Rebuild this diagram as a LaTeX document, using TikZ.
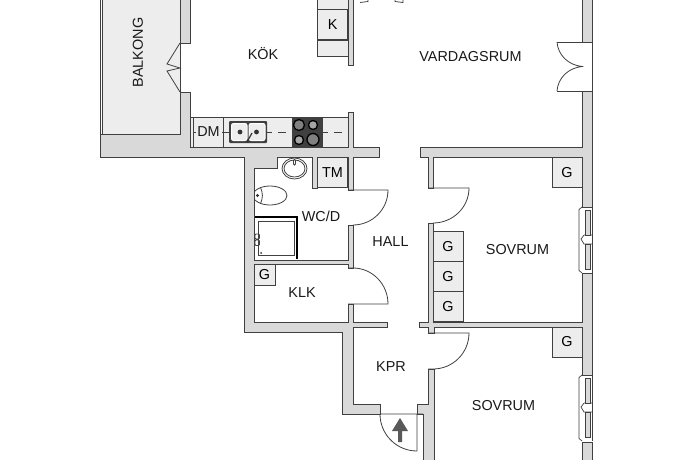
\documentclass[tikz,border=0pt]{standalone}
\usepackage{fontspec}
\setmainfont{Liberation Sans}
\definecolor{wallgray}{gray}{0.85}
\definecolor{boxgray}{gray}{0.93}
\definecolor{linegray}{gray}{0.25}
\begin{document}
\begin{tikzpicture}[x=1pt,y=-1pt,node distance=30pt,
		room label/.style={font=\fontsize{14.4}{14.4}\selectfont,text=black!90,inner sep=0pt},
		cupboard/.style={rectangle,draw=linegray,fill=boxgray,line width=.8pt,minimum size=30pt,inner sep=0pt,font=\fontsize{14.4}{14.4}\selectfont},
		wall/.style={draw=linegray,fill=wallgray,line width=.8pt,line join=miter},
		door line/.style={draw=linegray,line width=.8pt},
		window pane/.style={draw=linegray,fill=wallgray,line width=.6pt}]
		\path[use as bounding box,fill=white] (0,0) rectangle (690,460);
		\clip (0,0) rectangle (690,460);

		% balcony
		\fill[boxgray] (102,-2) rectangle (180,134);
		\draw[door line] (100,-2) -- (100,134) (102.5,-2) -- (102.5,134);
		\draw[door line] (180,-2) -- (180,134);
		\draw[door line] (180,43) -- (167,64) -- (180,68) -- (167,71) -- (180,92);
		\node[room label,rotate=90] (balkong) at (138,52.5) {BALKONG};

		% kitchen bench
		\fill[boxgray] (190,117) rectangle (348,147);
		\draw[door line] (190,117) -- (348,117) (193.5,117) -- (193.5,147) (223,117) -- (223,147);
		\draw[door line,line width=.6pt,dash pattern=on 8pt off 6pt] (194,132) -- (348,132);
		\fill[boxgray] (196,125) rectangle (221,139);
		\node[room label] (dm) at (208.5,132) {DM};
		% sink
		\fill[linegray,rounded corners=1pt] (229,121) rectangle (267,143);
		\draw[draw=white,fill=boxgray,line width=1pt,rounded corners=2pt] (231.5,123.5) rectangle (247,140.5);
		\draw[draw=white,fill=boxgray,line width=1pt,rounded corners=2pt] (249,123.5) rectangle (265,140.5);
		\fill[black!80] (240,132) circle (2.4) (256.5,132) circle (2.4);
		\draw[black!80,line width=1.2pt] (247,142) -- (252,133);
		% hob
		\fill[black!75] (292,117) rectangle (323,147);
		\foreach \hx/\hy/\hr/\hs in {299/125/5.5/black!50,313/125/4.5/black!35,299/140/4.5/black!35,313/139.5/6/black!50}
			\draw[black,line width=1.3pt,fill=\hs] (\hx,\hy) circle (\hr);

		% bathroom fittings
		\draw[door line] (294.5,168.5) ellipse (12.5 and 10.5);
		\draw[door line] (294.5,168.5) ellipse (10.5 and 8.5);
		\draw[door line,fill=white,rounded corners=1pt] (293.5,159.5) rectangle (295.5,165);
		\draw[door line] (270,195.5) ellipse (17 and 9.5);
		\draw[door line] (260.5,187.5) .. controls (263,193) and (263,198) .. (260.5,203.5);
		\fill[black!80] (257.5,195.5) circle (1.7);
		\draw[black,line width=1.6pt] (254,217) -- (297,217) -- (297,259);
		\draw[door line] (258,221) rectangle (294.5,255);
		\draw[door line,line width=.9pt,rounded corners=1pt] (255,234) rectangle (259.5,239) (255,240) rectangle (259.5,245.5);
		\fill[black!80] (261,253) circle (1);

		% walls
		\draw[wall] (100,134) -- (180,134) -- (180,92) -- (190,92) -- (190,147) -- (348,147) -- (348,112) -- (353,112)
			-- (353,147) -- (379,147) -- (379,157) -- (353,157) -- (353,190) -- (348,190) -- (348,157) -- (317,157)
			-- (317,188) -- (312,188) -- (312,157) -- (277,157) -- (277,168) -- (254,168) -- (254,260) -- (348,260)
			-- (348,225) -- (353,225) -- (353,268) -- (348,268) -- (348,264) -- (254,264) -- (254,322) -- (348,322)
			-- (348,304) -- (353,304) -- (353,322) -- (387,322) -- (387,327) -- (353,327) -- (353,404) -- (380,404)
			-- (380,414) -- (342,414) -- (342,332) -- (244,332) -- (244,157) -- (100,157) -- cycle;
		\draw[wall] (180,-2) -- (180,43) -- (190,43) -- (190,-2);
		\draw[wall] (348,-2) rectangle (353,65);
		\draw[wall] (582,-2) -- (582,42) -- (592,42) -- (592,-2);
		\draw[wall] (420,147) -- (582,147) -- (582,91) -- (592,91) -- (592,207) -- (582,207) -- (582,157) -- (433,157)
			-- (433,188) -- (428,188) -- (428,157) -- (420,157) -- cycle;
		\draw[wall] (582,273) -- (592,273) -- (592,375) -- (582,375) -- (582,327) -- (434,327) -- (434,333) -- (428,333)
			-- (428,327) -- (419,327) -- (419,322) -- (428,322) -- (428,223) -- (433,223) -- (433,322) -- (582,322) -- cycle;
		\draw[wall] (582,462) -- (582,442) -- (592,442) -- (592,462);
		\draw[wall] (434,462) -- (434,369) -- (428,369) -- (428,404) -- (417,404) -- (417,414) -- (423,414) -- (423,462);

		% windows
		\foreach \wy in {207,375} {
			\begin{scope}[shift={(0,\wy)}]
				\draw[door line,line width=.6pt] (592,0) -- (592,66);
				\draw[door line,line width=.7pt] (582,0) -- (579,2.5) -- (579,63.5) -- (582,66);
				\draw[door line,line width=.7pt] (584,28) -- (581,32) -- (584,37) -- (592,37) (584,28) -- (592,28);
				\draw[window pane] (585,3) rectangle (590,28) (585,37) rectangle (590,62);
			\end{scope}
		}

		% doors
		\draw[door line,line width=.6pt] (592,42) -- (592,91);
		\draw[door line] (557,42) -- (592,42) (557,91) -- (592,91);
		\draw[door line] (557,42) .. controls (558,55) and (568,65) .. (582,66.5) .. controls (568,68) and (558,78) .. (557,91);
		\draw[door line] (348,190) -- (388,190) arc (0:90:35 and 35);
		\draw[door line] (348,268) -- (353,268) arc (-90:0:35 and 36) -- (348,304);
		\draw[door line] (428,188) -- (469,188) arc (0:90:36 and 35);
		\draw[door line] (428,333) -- (469,333) arc (0:90:36 and 36) -- (428,369);
		\draw[door line] (380,414) -- (423,414) (417,414) -- (417,451) arc (90:180:37 and 37);
		\fill[black!65] (400,418) -- (408,431) -- (402,431) -- (402,442) -- (398,442) -- (398,431) -- (392,431) -- cycle;
		\draw[door line] (360,2.5) -- (368,1.5) -- (368,0) (395,0) -- (395,1.5) -- (403,2.5) -- (403,0);

		% cupboards
		\node[cupboard] (k) at (332.75,24.75) {K};
		\draw[cupboard] (317.5,-2) rectangle (348,9.5);
		\draw[cupboard] (317.5,40) rectangle (348,56);
		\node[cupboard] (tm) at (332.5,172.5) {TM};
		\node[cupboard,minimum size=21pt] (klkg) at (264.5,275) {G};
		\node[cupboard] (sovg1) at (448,246.5) {G};
		\node[cupboard] (sovg2) [below of=sovg1] {G};
		\node[cupboard] (sovg3) [below of=sovg2] {G};
		\node[cupboard] (sovg4) at (567,172.5) {G};
		\node[cupboard] (sovg5) at (567,342) {G};

		% rooms
		\node[room label] (kok) at (263,54) {KÖK};
		\node[room label] (vardagsrum) at (470.5,57) {VARDAGSRUM};
		\node[room label] (wcd) at (321,216) {WC/D};
		\node[room label] (hall) at (390.5,242) {HALL};
		\node[room label] (klk) at (302,292.5) {KLK};
		\node[room label] (kpr) at (391,366.5) {KPR};
		\node[room label] (sovrum1) at (517.5,250) {SOVRUM};
		\node[room label] (sovrum2) at (503.5,405.5) {SOVRUM};
		\end{tikzpicture}
\end{document}
